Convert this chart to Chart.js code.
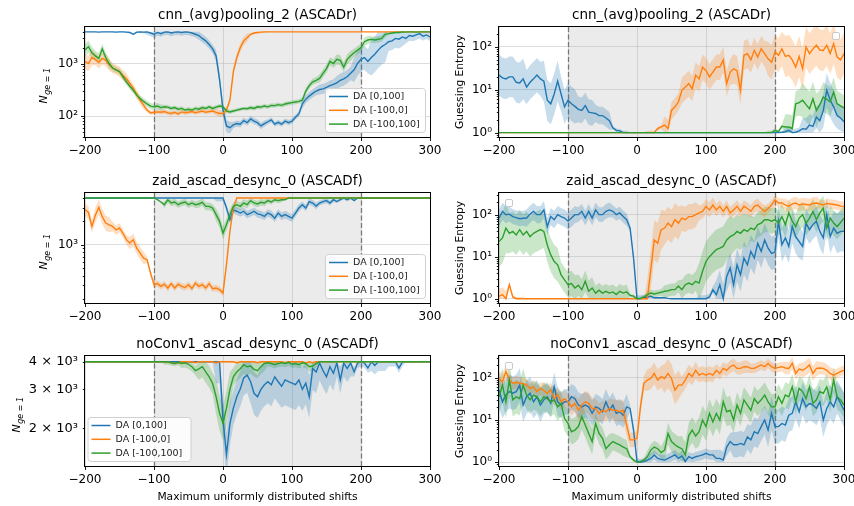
<!DOCTYPE html>
<html>
<head>
<meta charset="utf-8">
<script src="https://cdn.jsdelivr.net/npm/chart.js@4.4.0/dist/chart.umd.min.js"></script>
<style>
  body { margin: 0; background: #fff; width: 854px; height: 506px; position: relative; overflow: hidden; }
  canvas { position: absolute; }
</style>
</head>
<body>
<canvas id="p0" width="454" height="165" style="left:0px;top:0px"></canvas>
<canvas id="p1" width="424" height="165" style="left:430px;top:0px"></canvas>
<canvas id="p2" width="454" height="165" style="left:0px;top:166px"></canvas>
<canvas id="p3" width="424" height="165" style="left:430px;top:166px"></canvas>
<canvas id="p4" width="454" height="177" style="left:0px;top:329px"></canvas>
<canvas id="p5" width="424" height="177" style="left:430px;top:329px"></canvas>
<script>
// shifts on the x axis (step 5)
const SHIFTS = [-200,-195,-190,-185,-180,-175,-170,-165,-160,-155,
  -150,-145,-140,-135,-130,-125,-120,-115,-110,-105,
  -100,-95,-90,-85,-80,-75,-70,-65,-60,-55,
  -50,-45,-40,-35,-30,-25,-20,-15,-10,-5,
  0,5,10,15,20,25,30,35,40,45,
  50,55,60,65,70,75,80,85,90,95,
  100,105,110,115,120,125,130,135,140,145,
  150,155,160,165,170,175,180,185,190,195,
  200,205,210,215,220,225,230,235,240,245,
  250,255,260,265,270,275,280,285,290,295,
  300];
const X_TICKS = [-200, -100, 0, 100, 200, 300];
// band spread factors are read every 25 shifts: -200, -175, ..., 300
const BAND_STEPS = [-200,-175,-150,-125,-100,-75,-50,-25,0,25,50,75,100,125,150,175,200,225,250,275,300];
const LABELS = ['DA [0,100]', 'DA [-100,0]', 'DA [-100,100]'];
const N_CAP = 4000;

// ---- cnn_(avg)pooling_2 (ASCADr), N_ge=1
const cnnN_pos = [4000,4000,4000,4000,3950,4000,4000,4000,4000,3950,
  4000,4000,3950,3900,3600,3950,4000,3950,4000,3800,
  3600,3900,3700,3950,4000,3800,3950,4000,3900,4000,
  3950,3800,3600,3400,3000,2700,2300,1900,1400,500,
  130,65,60,68,72,70,82,75,88,80,
  75,65,72,78,85,70,76,70,80,75,
  80,95,110,170,210,240,270,300,320,330,
  350,380,400,430,480,510,560,650,760,1000,
  1200,1300,1100,1300,1500,1800,2100,2300,2600,2700,
  3000,2900,3200,3000,3400,3300,3500,3700,3300,3500,
  3200];
const cnnN_neg = [1100,1000,1300,1200,1050,1250,1150,950,820,760,
  700,600,520,420,340,260,200,160,130,115,
  118,120,118,122,115,112,118,110,120,115,
  118,122,116,120,125,118,122,125,118,112,
  112,130,200,700,1300,2000,2700,3100,3600,3800,
  3900,3950,4000,4000,4000,4000,4000,4000,4000,4000,
  4000,4000,4000,4000,4000,4000,4000,4000,4000,4000,
  4000,4000,4000,4000,4000,4000,4000,4000,4000,4000,
  4000,4000,4000,4000,4000,4000,4000,4000,4000,4000,
  4000,4000,4000,4000,4000,4000,4000,4000,4000,4000,
  4000];
const cnnN_sym = [1800,2100,1600,1400,1250,1900,1300,1000,820,760,
  700,560,450,370,310,250,215,190,170,155,
  150,155,145,150,148,140,145,135,140,130,
  135,130,140,135,145,140,150,140,148,155,
  150,125,120,125,130,135,140,138,145,140,
  150,148,155,150,160,158,165,160,170,175,
  180,185,190,200,300,380,450,480,520,650,
  800,1100,1000,1200,1150,850,1200,1400,1600,1800,
  2000,2600,2800,2900,2800,2900,3000,3600,3700,3800,
  3900,3900,4000,3950,4000,4000,3950,4000,4000,4000,
  4000];
const cnnN_posBand = [1,1,1.02,1.05,1.15,1.15,1.15,1.2,1.3,1.15,1.15,1.12,1.12,1.2,1.25,1.35,1.7,2.2,1.5,1.25,1.2];
const cnnN_negBand = [1.4,1.3,1.25,1.2,1.1,1.1,1.1,1.1,1.15,1.2,1.05,1,1,1,1,1,1,1,1,1,1];
const cnnN_symBand = [1.3,1.25,1.15,1.15,1.15,1.1,1.1,1.1,1.1,1.08,1.1,1.1,1.1,1.15,1.2,1.25,1.2,1.15,1.05,1,1];

// ---- cnn_(avg)pooling_2 (ASCADr), guessing entropy
const cnnGE_pos = [22,19,18,20,20,15,14.4,18,11.6,15,
  18,22,18,16,5.7,4.7,8,16,8,4,
  5.7,4.7,4.1,3.5,3.3,4.3,3,2.9,2.8,2.5,
  2.5,2.2,1.9,1.3,1.13,1.1,1,1,1,1,
  1,1,1,1,1,1,1,1,1,1,
  1,1,1,1,1,1,1,1,1,1,
  1,1,1,1,1,1,1,1,1,1,
  1,1,1,1,1,1,1,1,1,1,
  1,1,1.02,1.05,1.13,1,1.02,1.1,1.24,1.2,
  1.5,1.4,2.3,1.9,3.3,9.7,5.7,4,2.5,2.2,
  1.8];
const cnnGE_neg = [1,1,1,1,1,1,1,1,1,1,
  1,1,1,1,1,1,1,1,1,1,
  1,1,1,1,1,1,1,1,1,1,
  1,1,1,1,1,1,1,1,1,1,
  1,1,1,1,1,1,1.24,1.36,1.5,1.24,
  3.3,4,5.2,9.7,11.6,14,10.6,22,18,34,
  28,20,26,34,34,50,14,26,31,28,
  9.7,64,70,50,83,58,91,70,53,44,
  76,64,91,60,64,50,34,60,31,100,
  70,90,110,85,83,110,70,120,58,50,
  70];
const cnnGE_sym = [1,1,1,1,1,1,1,1,1,1,
  1,1,1,1,1,1,1,1,1,1,
  1,1,1,1,1,1,1,1,1,1,
  1,1,1,1,1,1,1,1,1,1,
  1,1,1,1,1,1,1,1,1,1,
  1,1,1,1,1,1,1,1,1,1,
  1,1,1,1,1,1,1,1,1,1,
  1,1,1,1,1,1,1,1,1,1,
  1.13,1.05,1.4,1.35,1.35,1.25,4.7,5,5.7,4.5,
  3.6,6.2,3.3,4.5,6.8,6,5.2,8.9,4.7,4.2,
  3.8];
const cnnGE_posBand = [3,3,2.5,3,2.5,2,1.6,1.1,1,1,1,1,1,1,1,1,1.05,1.2,1.8,2.5,2];
const cnnGE_negBand = [1,1,1,1,1,1,1,1,1,1.1,1.6,2,2,2,2.2,2,2.5,3,3,3,3];
const cnnGE_symBand = [1,1,1,1,1,1,1,1,1,1,1,1,1,1,1,1,1.1,2,2.5,2.2,2];

// ---- zaid_ascad_desync_0 (ASCADf), N_ge=1
const zaidN_pos = [4000,4000,4000,4000,4000,4000,4000,4000,4000,4000,
  4000,4000,4000,4000,4000,4000,4000,4000,4000,4000,
  4000,4000,4000,4000,4000,4000,4000,4000,4000,4000,
  4000,4000,4000,4000,4000,4000,4000,4000,4000,4000,
  4000,3000,2100,2800,2700,2560,2700,2440,2560,2700,
  2500,2440,2320,2560,2440,2200,2560,2320,2440,2320,
  2200,2560,2970,3280,2970,3600,3450,3150,3450,3600,
  3700,3450,3800,3600,3800,4000,3800,4000,3700,4000,
  4000,4000,4000,4000,4000,4000,4000,4000,4000,4000,
  4000,4000,4000,4000,4000,4000,4000,4000,4000,4000,
  4000];
const zaidN_neg = [2830,2600,1720,2400,3030,2300,1900,1800,1720,1550,
  1640,1400,1160,1050,1160,900,780,670,640,430,
  305,315,290,310,276,315,276,310,290,280,
  305,272,320,290,305,276,315,270,276,263,
  238,550,1490,2970,4000,4000,4000,4000,4000,4000,
  4000,4000,4000,4000,4000,4000,4000,4000,4000,4000,
  4000,4000,4000,4000,4000,4000,4000,4000,4000,4000,
  4000,4000,4000,4000,4000,4000,4000,4000,4000,4000,
  4000,4000,4000,4000,4000,4000,4000,4000,4000,4000,
  4000,4000,4000,4000,4000,4000,4000,4000,4000,4000,
  4000];
const zaidN_sym = [4000,4000,4000,4000,4000,4000,4000,4000,4000,4000,
  4000,4000,4000,4000,4000,4000,4000,4000,4000,4000,
  4000,3800,3550,3280,3800,3450,3550,3280,3450,3550,
  3280,3450,3280,3350,3520,3120,3120,2970,2440,2000,
  1410,1810,2440,3120,3280,3120,3450,3280,3700,3450,
  3350,3520,3450,3700,3550,3800,3700,3800,3800,4000,
  4000,4000,4000,4000,4000,4000,4000,4000,4000,4000,
  4000,4000,4000,4000,4000,4000,4000,4000,4000,4000,
  4000,4000,4000,4000,4000,4000,4000,4000,4000,4000,
  4000,4000,4000,4000,4000,4000,4000,4000,4000,4000,
  4000];
const zaidN_posBand = [1,1,1,1,1,1,1,1,1.1,1.12,1.12,1.12,1.12,1.1,1.08,1.05,1,1,1,1,1];
const zaidN_negBand = [1.2,1.25,1.15,1.2,1.1,1.1,1.1,1.1,1.1,1,1,1,1,1,1,1,1,1,1,1,1];
const zaidN_symBand = [1,1,1,1,1,1.1,1.1,1.12,1.2,1.12,1.1,1.08,1,1,1,1,1,1,1,1,1];

// ---- zaid_ascad_desync_0 (ASCADf), guessing entropy
const zaidGE_pos = [83,120,100,103,90,85,80,82,83,103,
  120,100,100,130,52,90,76,100,90,83,
  70,83,100,100,120,83,120,83,130,100,
  100,120,130,120,100,110,90,76,48,9.3,
  1,1,1.05,1.1,1.14,1.05,1.05,1.05,1.05,1.02,
  1,1,1,1,1,1,1,1,1,1,
  1,1.1,1.64,1.25,2.15,1,3.4,5.4,2.15,6.4,
  3.7,9.3,6.4,13.4,9.3,21,13.4,25,16,12,
  12.9,70,19.3,28,17.6,52,30,23,17.6,63,
  44,58,70,40,28,100,30,48,36,40,
  40];
const zaidGE_neg = [1.14,1.25,1,2.15,1.1,1,1,1,1,1,
  1,1,1,1,1,1,1,1,1,1,
  1,1,1,1,1,1,1,1,1,1,
  1,1,1,1,1,1,1,1,1,1,
  1,1,1,1,4.9,25,21,44,48,63,
  52,76,63,83,76,90,90,100,110,120,
  158,130,170,130,158,120,158,110,130,158,
  120,158,140,120,158,170,140,120,140,170,
  225,190,190,170,158,180,190,170,180,175,
  170,185,190,180,170,185,180,175,170,160,
  158];
const zaidGE_sym = [23,28,48,36,40,33,44,33,40,30,
  36,40,44,40,19,11,7.7,6.4,3.7,2.8,
  2.15,2.3,1.8,2.1,1.64,2.6,1.5,1.8,1.36,1.6,
  1.36,1.5,1.36,1.45,1.25,1.5,1.36,1.45,1.2,1.15,
  1,1.02,1.1,1.25,1.36,1.3,1.36,1.42,1.5,1.55,
  1.64,1.64,2,1.64,2.15,2.36,2.15,2.6,2.36,4.5,
  7.7,10,12.2,14.7,16,17.6,25,30,33,40,
  36,44,40,48,44,58,63,76,76,70,
  76,63,90,58,110,70,52,83,100,63,
  83,120,76,110,143,48,83,63,52,65,
  83];
const zaidGE_posBand = [1.6,1.5,1.6,1.6,1.6,1.5,1.5,1.4,1.2,1.05,1,1,1.2,2.2,2.5,2.5,2.5,2.5,2.2,2.5,3];
const zaidGE_negBand = [1.5,1.1,1,1,1,1,1,1,1,3,2.5,2,1.5,1.4,1.4,1.4,1.3,1.4,1.4,1.3,1.3];
const zaidGE_symBand = [4,3,3,2.5,2,1.8,1.5,1.5,1.1,1.2,1.4,1.7,3,3,2.5,2,2,2,2,2,2];

// ---- noConv1_ascad_desync_0 (ASCADf), N_ge=1
const noconvN_pos = [4000,4000,4000,4000,4000,4000,4000,4000,4000,4000,
  4000,4000,4000,4000,4000,4000,4000,4000,4000,4000,
  4000,4000,4000,4000,4000,4000,4000,4000,4000,4000,
  4000,4000,4000,4000,4000,4000,4000,4000,4000,4000,
  2200,1520,2100,2470,2780,3010,3380,3480,3250,2880,
  2780,3000,3150,3250,3150,3420,3250,3100,3310,3250,
  3200,3150,3310,3000,3200,2780,3730,3600,3950,3650,
  3420,3800,3550,3950,3310,3950,3730,3950,3600,3950,
  4000,3950,3750,4000,3850,4000,4000,4000,4000,4000,
  4000,3750,4000,4000,4000,4000,4000,4000,4000,4000,
  4000];
const noconvN_neg = [4000,4000,4000,4000,4000,4000,4000,4000,4000,4000,
  4000,4000,4000,4000,4000,4000,4000,4000,4000,4000,
  4000,4000,4000,4000,4000,3960,3930,3960,4000,4000,
  4000,4000,3960,4000,4000,4000,4000,4000,3960,4000,
  4000,4000,4000,4000,3960,4000,4000,4000,4000,4000,
  3960,4000,4000,4000,4000,4000,4000,4000,3960,4000,
  4000,4000,4000,4000,3950,4000,3960,4000,4000,4000,
  4000,4000,4000,4000,4000,4000,4000,4000,4000,4000,
  4000,4000,4000,4000,4000,4000,4000,4000,4000,4000,
  4000,4000,4000,4000,4000,4000,4000,4000,4000,4000,
  4000];
const noconvN_sym = [4000,4000,4000,4000,4000,4000,4000,4000,4000,4000,
  4000,4000,4000,4000,4000,4000,4000,4000,4000,4000,
  4000,4000,4000,4000,4000,3960,3930,3980,3930,3960,
  3900,3800,3650,3720,3800,3600,3420,3190,2780,2340,
  2110,2470,3000,3420,3600,3720,3880,3800,3830,3700,
  3650,3800,3930,3960,3930,3880,3930,3960,3930,3980,
  3900,3930,3880,3960,3930,3800,3830,3930,4000,4000,
  4000,4000,4000,4000,4000,4000,4000,4000,4000,4000,
  4000,4000,4000,4000,4000,4000,4000,4000,4000,4000,
  4000,4000,4000,4000,4000,4000,4000,4000,4000,4000,
  4000];
const noconvN_posBand = [1,1,1,1,1,1,1,1,1.25,1.2,1.25,1.25,1.3,1.25,1.2,1.15,1.05,1.1,1.05,1,1];
const noconvN_negBand = [1,1,1,1,1,1.01,1.01,1.01,1.01,1.01,1.01,1.01,1.01,1.01,1,1,1,1,1,1,1];
const noconvN_symBand = [1,1,1,1,1,1.03,1.05,1.12,1.2,1.1,1.08,1.04,1.04,1.05,1,1,1,1,1,1,1];

// ---- noConv1_ascad_desync_0 (ASCADf), guessing entropy
const noconvGE_pos = [51,27,39,47,43,47,67,22.6,35.5,43,
  27,35.5,22.6,30,35.5,25,61,27,22.6,27,
  27,35.5,32,22.6,20.5,22.6,20.5,14.4,20.5,18.8,
  15.7,27,17,22.6,14.4,15.7,13,20.5,18.8,5.8,
  1.04,1,1.04,1.13,1.24,1.5,1.24,1.18,1.13,1.24,
  1.36,1.5,1.24,1.42,1.05,1.36,1.24,1.36,1.42,1.5,
  1.63,1.5,1.5,1.24,1.24,1.13,2.3,3.1,2.6,2.6,
  2.8,2.6,4,3.4,5.3,4.8,7,10,5.8,14.4,
  7,7,8.3,7.6,13,14.4,27,15.7,32,20.5,
  24.7,22.6,18.8,27,10,18.8,27,20.5,35.5,25,
  17];
const noconvGE_neg = [96,80,140,88,74,78,74,72,67,56,
  61,47,56,50,43,52,32,40,27,32,
  27,20.5,24.7,17,22.6,27,24.7,18.8,18.8,14.4,
  17,15.7,18.8,17,17,15.7,17,7.6,3.4,3.4,
  3.7,20.5,74,88,96,126,88,106,96,126,
  96,51,67,67,88,126,106,150,115,126,
  115,126,115,150,126,166,150,182,200,166,
  166,182,182,166,166,182,200,182,218,182,
  166,175,182,170,166,218,126,160,150,170,
  200,126,166,170,166,150,126,115,126,140,
  150];
const noconvGE_sym = [35.5,67,27,88,30,35.5,32,67,39,30,
  39,35.5,27,35.5,32,27,30,20.5,24.7,11,
  8.3,5.3,5.8,7,12,7.6,4.8,3.1,8.3,4.8,
  3.7,2.1,2.6,3.1,2.8,2.6,2.3,2.1,1.36,1.13,
  1,1.04,1.13,1.36,1.95,2.3,2.1,1.7,1.95,4.8,
  3.1,2.6,2.3,2.1,1.5,4.3,5.8,4.2,5.3,10,
  7,14.4,9,14.4,10,27,15.7,17,10,22.6,
  14.4,30,22.6,17,32,24.7,30,39,27,20.5,
  20.5,35.5,24.7,39,35.5,61,27,56,47,32,
  61,24.7,30,47,43,61,30,88,35.5,30,
  22.6];
const noconvGE_posBand = [2.5,2.5,2.5,2.2,2,2,2,2,1.2,1.3,1.3,1.3,1.3,1.6,2,2.2,2.5,2.5,2.5,2.5,2.5];
const noconvGE_negBand = [1.5,1.4,1.4,1.5,1.6,1.8,1.7,1.8,1.5,1.8,2.2,1.6,1.5,1.4,1.4,1.3,1.3,1.4,1.5,1.4,1.3];
const noconvGE_symBand = [2.5,2.5,2.2,2.2,2,2,1.8,1.6,1.1,1.4,1.8,2,2.2,2.2,2,2,2,2,2,2,2];

const PANELS = [
  { canvas: 'p0', title: 'cnn_(avg)pooling_2 (ASCADr)', metric: 'N', yMin: 40, yMax: 4950,
    lines: [cnnN_pos, cnnN_neg, cnnN_sym], bands: [cnnN_posBand, cnnN_negBand, cnnN_symBand], legend: 'lowerRight' },
  { canvas: 'p1', title: 'cnn_(avg)pooling_2 (ASCADr)', metric: 'GE', yMin: 0.79, yMax: 293,
    lines: [cnnGE_pos, cnnGE_neg, cnnGE_sym], bands: [cnnGE_posBand, cnnGE_negBand, cnnGE_symBand], legend: 'emptyTR' },
  { canvas: 'p2', title: 'zaid_ascad_desync_0 (ASCADf)', metric: 'N', yMin: 177, yMax: 4640,
    lines: [zaidN_pos, zaidN_neg, zaidN_sym], bands: [zaidN_posBand, zaidN_negBand, zaidN_symBand], legend: 'lowerRight' },
  { canvas: 'p3', title: 'zaid_ascad_desync_0 (ASCADf)', metric: 'GE', yMin: 0.79, yMax: 328,
    lines: [zaidGE_pos, zaidGE_neg, zaidGE_sym], bands: [zaidGE_posBand, zaidGE_negBand, zaidGE_symBand], legend: 'emptyTL' },
  { canvas: 'p4', title: 'noConv1_ascad_desync_0 (ASCADf)', metric: 'N', yMin: 1350, yMax: 4250, minorLabels: true,
    lines: [noconvN_pos, noconvN_neg, noconvN_sym], bands: [noconvN_posBand, noconvN_negBand, noconvN_symBand], legend: 'lowerLeft', xTitle: true },
  { canvas: 'p5', title: 'noConv1_ascad_desync_0 (ASCADf)', metric: 'GE', yMin: 0.82, yMax: 326,
    lines: [noconvGE_pos, noconvGE_neg, noconvGE_sym], bands: [noconvGE_posBand, noconvGE_negBand, noconvGE_symBand], legend: 'emptyTL', xTitle: true },
];

const COLORS = ['#1f77b4', '#ff7f0e', '#2ca02c'];
const BAND_COLORS = ['rgba(31,119,180,0.25)', 'rgba(255,127,14,0.25)', 'rgba(44,160,44,0.25)'];
const GRID = 'rgba(176,176,176,0.55)';
const FONT = 'DejaVu Sans';

Chart.defaults.font.family = FONT;
Chart.defaults.color = '#000';

const SUP = '⁰¹²³⁴⁵⁶⁷⁸⁹';
const sup = e => String(e).split('').map(c => c === '-' ? '⁻' : SUP[+c]).join('');
const decade = v => Math.floor(Math.log10(v) + 1e-9);
const mantissa = v => Math.round(v / Math.pow(10, decade(v)));

function bandEdges(vals, factors, metric) {
  const upper = [], lower = [];
  vals.forEach((v, i) => {
    const f = factors[Math.round(i / 5)];
    upper.push(metric === 'N' ? Math.min(N_CAP, v * f) : v * f);
    lower.push(metric === 'GE' ? Math.max(1, v / f) : v / f);
  });
  return [upper, lower];
}

const pts = arr => arr.map((y, i) => ({ x: SHIFTS[i], y }));

function roundRect(ctx, x, y, w, h, r) {
  ctx.beginPath();
  ctx.moveTo(x + r, y);
  ctx.arcTo(x + w, y, x + w, y + h, r);
  ctx.arcTo(x + w, y + h, x, y + h, r);
  ctx.arcTo(x, y + h, x, y, r);
  ctx.arcTo(x, y, x + w, y, r);
  ctx.closePath();
}

const decor = {
  id: 'decor',
  beforeDraw(chart) {
    const { ctx, chartArea: a, scales: { x } } = chart;
    const x0 = x.getPixelForValue(-100), x1 = x.getPixelForValue(200);
    ctx.save();
    ctx.fillStyle = 'rgba(128,128,128,0.16)';
    ctx.fillRect(x0, a.top, x1 - x0, a.bottom - a.top);
    ctx.restore();
  },
  beforeDatasetsDraw(chart) {
    const { ctx, chartArea: a, scales: { x } } = chart;
    ctx.save();
    ctx.strokeStyle = 'rgba(110,110,110,0.9)';
    ctx.lineWidth = 1.3;
    ctx.setLineDash([5, 2.5]);
    [-100, 200].forEach(v => {
      const px = Math.round(x.getPixelForValue(v)) + 0.5;
      ctx.beginPath(); ctx.moveTo(px, a.top); ctx.lineTo(px, a.bottom); ctx.stroke();
    });
    ctx.restore();
  },
  afterDraw(chart) {
    const { ctx, chartArea: a, scales: { x, y } } = chart;
    const p = chart.options.plugins.decor.panel;
    ctx.save();
    // frame
    ctx.strokeStyle = '#000';
    ctx.lineWidth = 1;
    ctx.strokeRect(Math.round(a.left) - 0.5, Math.round(a.top) - 0.5, Math.round(a.right - a.left) + 1, Math.round(a.bottom - a.top) + 1);
    // tick marks
    ctx.lineWidth = 0.9;
    ctx.beginPath();
    x.ticks.forEach(t => {
      const px = Math.round(x.getPixelForValue(t.value)) + 0.5;
      ctx.moveTo(px, a.bottom); ctx.lineTo(px, a.bottom + 4);
    });
    y.ticks.forEach(t => {
      const py = Math.round(y.getPixelForValue(t.value)) + 0.5;
      const len = mantissa(t.value) === 1 ? 4 : 2.2;
      ctx.moveTo(a.left, py); ctx.lineTo(a.left - len, py);
    });
    ctx.stroke();
    // title
    ctx.fillStyle = '#000';
    ctx.textAlign = 'center';
    ctx.textBaseline = 'middle';
    ctx.font = '13.5px ' + FONT;
    ctx.fillText(p.title, (a.left + a.right) / 2, 15);
    // axis titles
    const midY = (a.top + a.bottom) / 2;
    if (p.metric === 'GE') {
      ctx.save();
      ctx.translate(30, midY);
      ctx.rotate(-Math.PI / 2);
      ctx.font = '10.7px ' + FONT;
      ctx.fillText('Guessing Entropy', 0, 0);
      ctx.restore();
    } else {
      ctx.save();
      ctx.translate(p.minorLabels ? 16 : 43, midY + 4);
      ctx.rotate(-Math.PI / 2);
      ctx.textAlign = 'left';
      ctx.textBaseline = 'alphabetic';
      ctx.font = 'italic 11px ' + FONT;
      const wN = ctx.measureText('N').width;
      ctx.font = 'italic 8px ' + FONT;
      const wS = ctx.measureText('ge = 1').width;
      const x0 = -(wN + wS) / 2;
      ctx.font = 'italic 11px ' + FONT;
      ctx.fillText('N', x0, 4);
      ctx.font = 'italic 8px ' + FONT;
      ctx.fillText('ge = 1', x0 + wN + 0.5, 6.5);
      ctx.restore();
    }
    if (p.xTitle) {
      ctx.font = '10.7px ' + FONT;
      ctx.fillText('Maximum uniformly distributed shifts', (a.left + a.right) / 2, 168);
    }
    // legends
    if (p.legend === 'lowerRight' || p.legend === 'lowerLeft') {
      const w = p.legend === 'lowerLeft' ? 103 : 100, h = 44;
      const bx = p.legend === 'lowerLeft' ? a.left + 2.5 : a.right - 5 - w;
      const by = a.bottom - 5 - h;
      roundRect(ctx, bx + 0.5, by + 0.5, w, h, 3);
      ctx.fillStyle = 'rgba(255,255,255,0.85)';
      ctx.fill();
      ctx.strokeStyle = '#d0d0d0';
      ctx.lineWidth = 1;
      ctx.stroke();
      ctx.font = '9.5px ' + FONT;
      ctx.textAlign = 'left';
      ctx.textBaseline = 'middle';
      LABELS.forEach((lab, k) => {
        const ly = by + 8.5 + k * 13.8;
        ctx.strokeStyle = COLORS[k];
        ctx.lineWidth = 1.5;
        ctx.beginPath(); ctx.moveTo(bx + 4, ly); ctx.lineTo(bx + 23, ly); ctx.stroke();
        ctx.fillStyle = '#222';
        ctx.fillText(lab, bx + 28, ly);
      });
    } else if (p.legend === 'emptyTR' || p.legend === 'emptyTL') {
      const bx = p.legend === 'emptyTR' ? a.right - 12 : a.left + 6;
      const by = a.top + (p.legend === 'emptyTR' ? 5 : 6);
      roundRect(ctx, bx + 0.5, by + 0.5, 7, 7, 1.5);
      ctx.fillStyle = 'rgba(255,255,255,0.85)';
      ctx.fill();
      ctx.strokeStyle = '#c8c8c8';
      ctx.lineWidth = 1;
      ctx.stroke();
    }
    ctx.restore();
  }
};

PANELS.forEach(p => {
  const left = p.metric === 'N';
  const yWidth = left ? 85 : 69;
  const padRight = left ? 24 : 10;
  const canvas = document.getElementById(p.canvas);
  const xHeight = canvas.height - 27 - 110;

  const datasets = [];
  // upper/lower band edges sit next to each other so fill '+1' closes each band
  p.lines.forEach((vals, k) => {
    const [upper, lower] = bandEdges(vals, p.bands[k], p.metric);
    datasets.push({ label: LABELS[k] + ' upper', data: pts(upper), borderColor: 'rgba(0,0,0,0)', borderWidth: 1,
      pointRadius: 0, fill: '+1', backgroundColor: BAND_COLORS[k], order: 5 });
    datasets.push({ label: LABELS[k] + ' lower', data: pts(lower), borderColor: 'rgba(0,0,0,0)', borderWidth: 1,
      pointRadius: 0, fill: false, order: 5 });
  });
  p.lines.forEach((vals, k) => {
    datasets.push({ label: LABELS[k], data: pts(vals), borderColor: COLORS[k], borderWidth: 1.4,
      pointRadius: 0, fill: false, order: 2 - k });
  });

  new Chart(canvas, {
    type: 'line',
    data: { datasets },
    options: {
      responsive: false,
      animation: false,
      events: [],
      layout: { padding: { top: 27, right: padRight, left: 0, bottom: 0 } },
      plugins: { legend: { display: false }, tooltip: { enabled: false }, decor: { panel: p } },
      scales: {
        x: {
          type: 'linear', min: -200, max: 300,
          afterBuildTicks: s => { s.ticks = X_TICKS.map(v => ({ value: v })); },
          afterFit: s => { s.height = xHeight; s.paddingLeft = 0; s.paddingRight = 0; },
          ticks: { padding: 7, autoSkip: false, maxRotation: 0, font: { size: 12 },
            callback: v => (v < 0 ? '−' + Math.abs(v) : String(v)) },
          grid: { color: GRID, lineWidth: 0.8, drawTicks: false },
          border: { display: false }
        },
        y: {
          type: 'logarithmic', min: p.yMin, max: p.yMax,
          afterBuildTicks: s => {
            const ticks = [];
            for (let e = decade(p.yMin); e <= decade(p.yMax); e++) {
              for (let m = 1; m <= 9; m++) {
                const v = m * Math.pow(10, e);
                if (v >= p.yMin && v <= p.yMax) ticks.push({ value: v, major: m === 1 });
              }
            }
            s.ticks = ticks;
          },
          afterFit: s => { s.width = yWidth; s.paddingTop = 0; s.paddingBottom = 0; },
          ticks: { padding: 7, autoSkip: false, font: { size: p.minorLabels ? 13 : 12 },
            callback: v => {
              const m = mantissa(v), e = decade(v);
              if (m === 1) return '10' + sup(e);
              return p.minorLabels ? m + ' × 10' + sup(e) : '';
            } },
          grid: { color: c => (c.tick && mantissa(c.tick.value) === 1 ? GRID : 'rgba(0,0,0,0)'), lineWidth: 0.8, drawTicks: false },
          border: { display: false }
        }
      }
    },
    plugins: [decor]
  });
});

// sanity check on array lengths
const bad = [];
PANELS.forEach(p => {
  p.lines.forEach((l, k) => { if (l.length !== SHIFTS.length) bad.push(p.canvas + ' line ' + k + ': ' + l.length); });
  p.bands.forEach((b, k) => { if (b.length !== BAND_STEPS.length) bad.push(p.canvas + ' band ' + k + ': ' + b.length); });
});
if (bad.length) { const d = document.createElement('div'); d.style.cssText = 'position:absolute;left:300px;top:200px;color:red;font:14px sans-serif'; d.textContent = bad.join(' | '); document.body.appendChild(d); }
</script>
</body>
</html>
